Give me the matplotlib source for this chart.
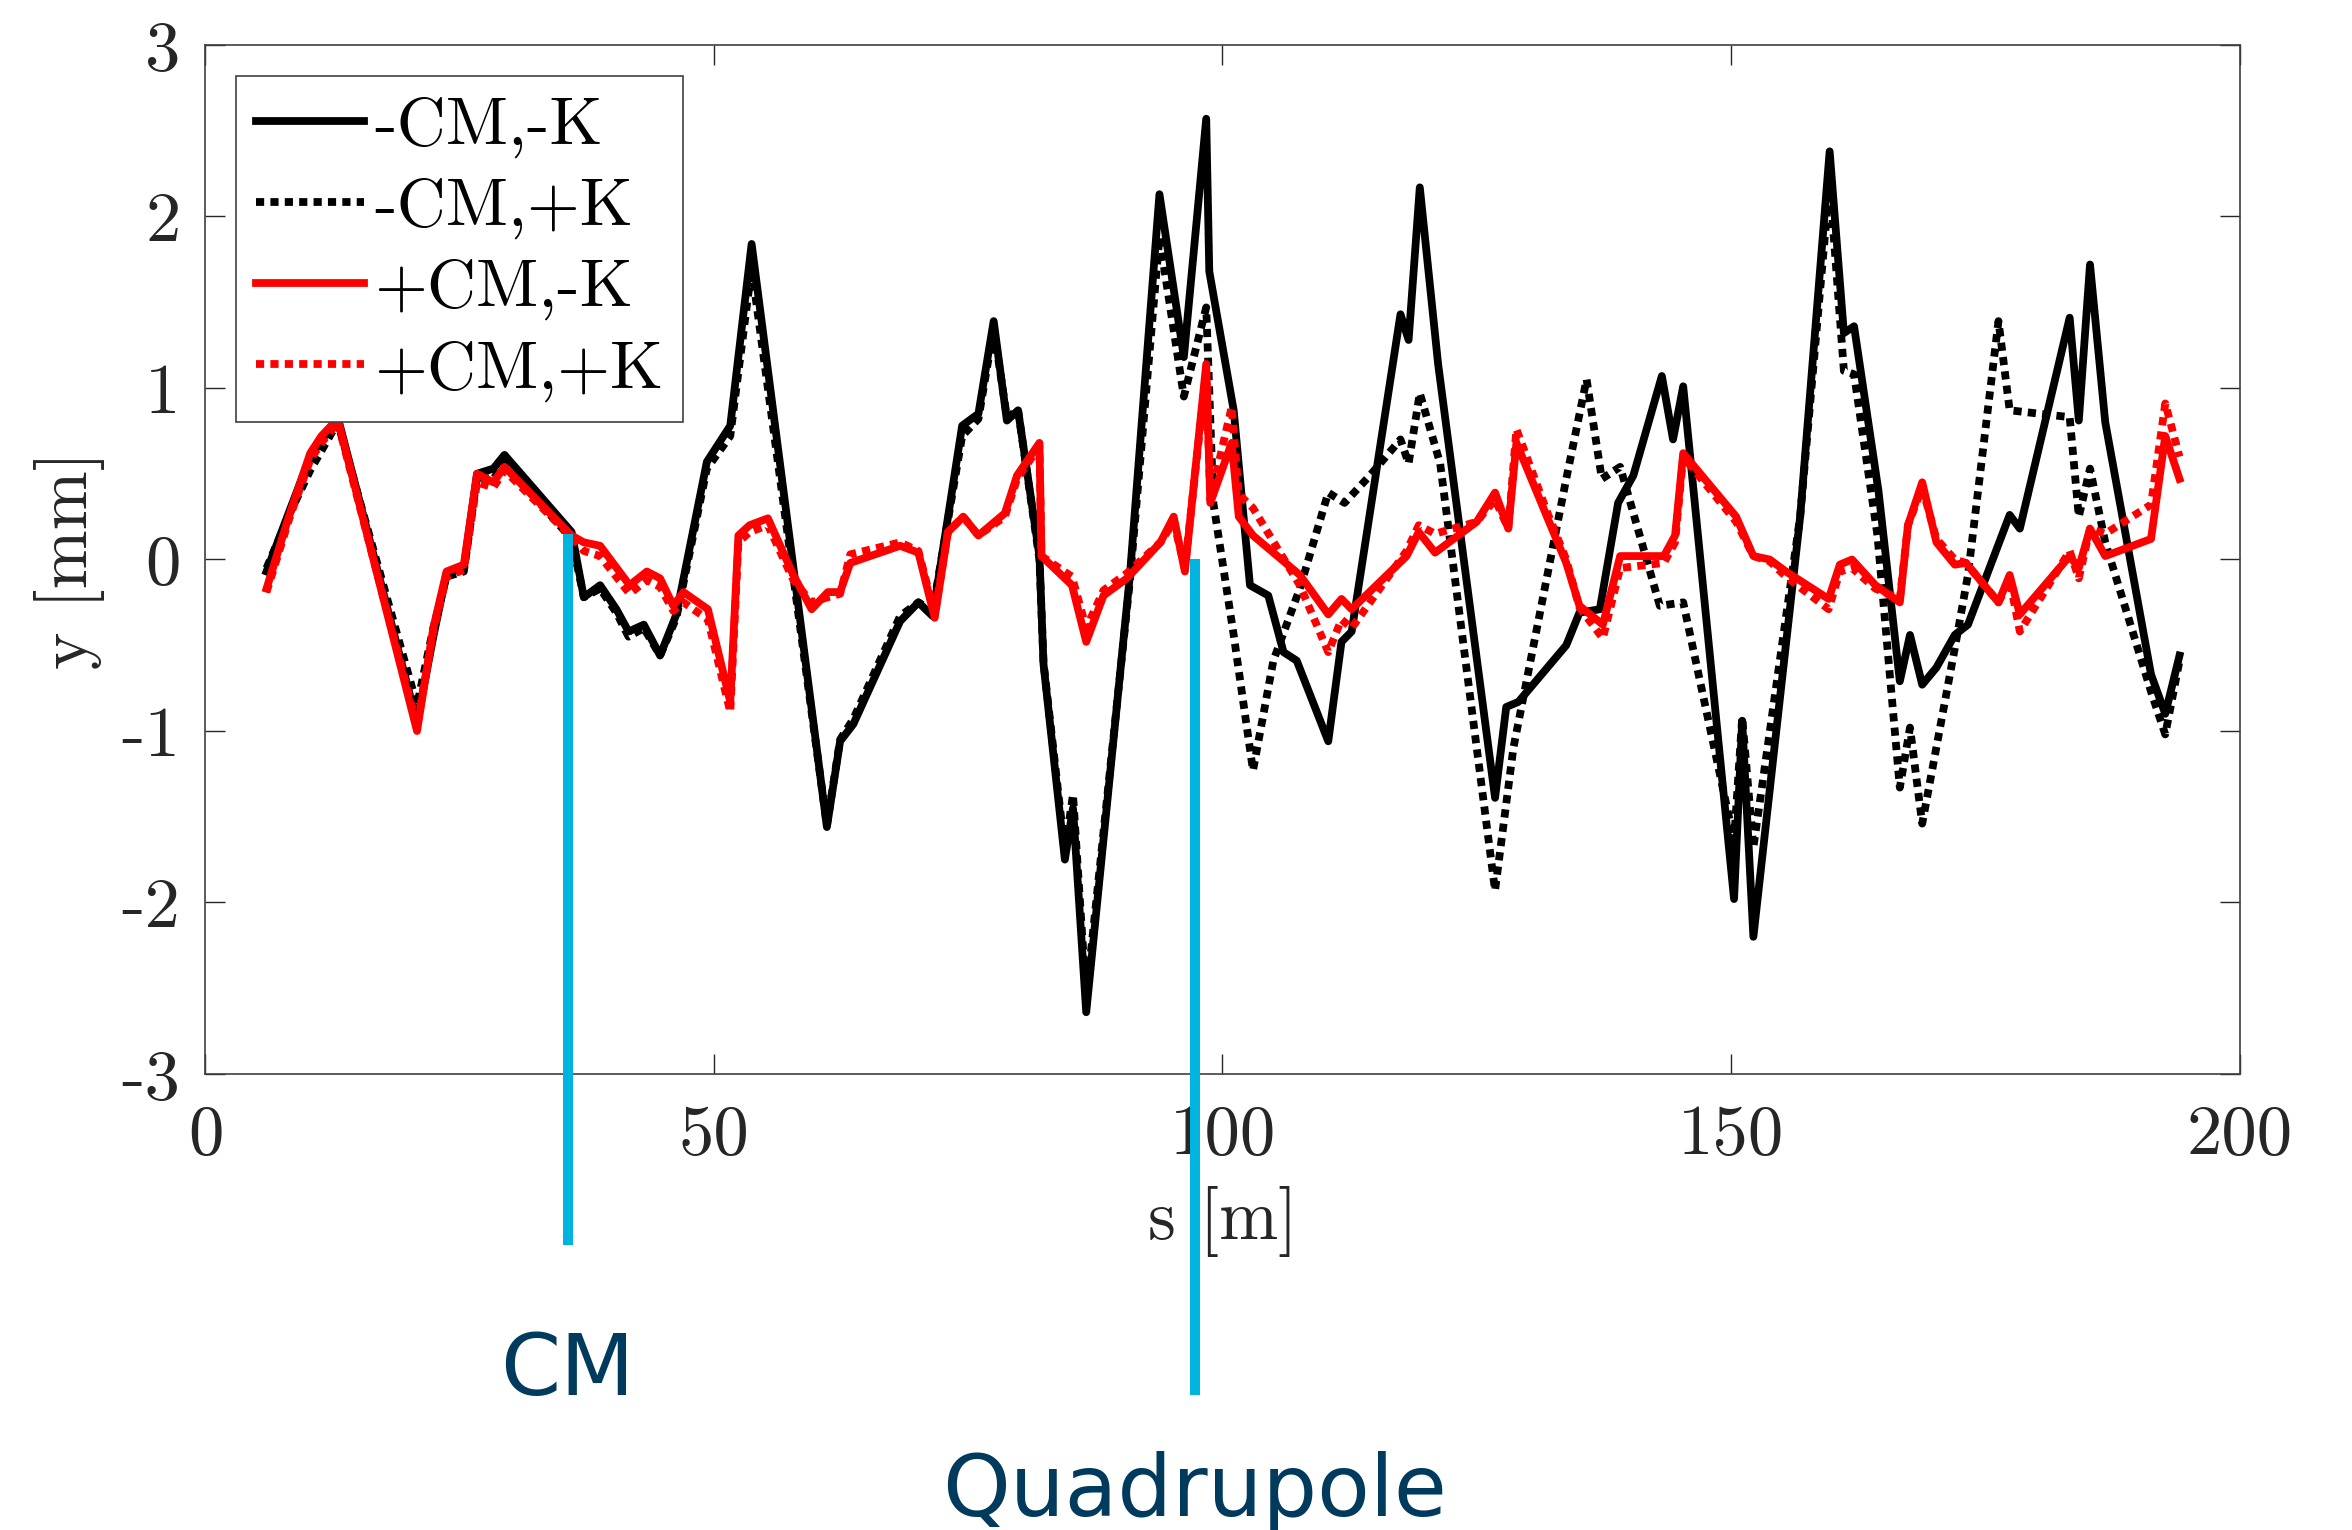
import matplotlib
matplotlib.use("Agg")
import matplotlib.pyplot as plt

plt.rcParams['font.family'] = ['cmr10', 'DejaVu Serif']
plt.rcParams['axes.unicode_minus'] = False
plt.rcParams['mathtext.fontset'] = 'cm'

# -CM,-K
s_a = [6.0, 8.3, 10.3, 13.0, 20.8, 22.4, 23.7, 25.4, 26.7, 28.3, 29.4, 36.0, 37.2, 38.8,
       40.4, 41.6, 43.1, 44.7, 46.3, 49.3, 51.6, 53.7, 61.1, 62.4, 63.7, 68.3, 70.1, 71.5,
       74.4, 76.0, 77.5, 78.8, 79.9, 82.0, 82.4, 84.5, 85.3, 86.6, 90.9, 93.8, 96.2, 98.4,
       98.7, 101.1, 102.7, 104.5, 106.0, 107.3, 110.4, 111.7, 112.7, 117.5, 118.3, 119.4,
       121.2, 126.8, 127.9, 129.1, 133.8, 135.1, 137.1, 138.9, 140.4, 143.2, 144.3, 145.3,
       150.3, 151.1, 152.2, 156.8, 159.7, 161.1, 162.1, 164.5, 166.6, 167.6, 168.8, 170.2,
       172.0, 173.3, 177.4, 178.4, 183.3, 184.2, 185.3, 186.8, 191.3, 192.7, 194.1]
y_a = [-0.07, 0.29, 0.60, 0.83, -0.95, -0.45, -0.08, -0.05, 0.50, 0.53, 0.61, 0.16, -0.22, -0.15,
       -0.29, -0.42, -0.38, -0.56, -0.32, 0.57, 0.78, 1.84, -1.56, -1.06, -0.96, -0.36, -0.25, -0.33,
       0.78, 0.85, 1.39, 0.81, 0.87, 0.02, -0.61, -1.75, -1.45, -2.64, -0.09, 2.13, 1.18, 2.57,
       1.68, 0.87, -0.15, -0.21, -0.54, -0.59, -1.06, -0.48, -0.42, 1.43, 1.28, 2.17,
       1.14, -1.39, -0.86, -0.83, -0.50, -0.31, -0.29, 0.33, 0.49, 1.07, 0.70, 1.01,
       -1.98, -0.94, -2.20, 0.25, 2.38, 1.32, 1.36, 0.40, -0.71, -0.44, -0.73, -0.63,
       -0.44, -0.38, 0.26, 0.18, 1.41, 0.81, 1.72, 0.80, -0.67, -0.90, -0.56]

# -CM,+K
s_b = [6.0, 8.3, 10.3, 13.0, 20.8, 22.4, 23.7, 25.4, 26.7, 28.3, 29.4, 36.0, 37.2, 38.8,
       40.4, 41.6, 43.1, 44.7, 46.3, 49.3, 51.6, 53.7, 61.1, 62.4, 63.7, 68.3, 70.1, 71.5,
       74.4, 76.0, 77.5, 78.8, 79.9, 82.0, 82.4, 84.5, 85.3, 86.6, 90.9, 93.8, 96.2, 98.4,
       99.1, 101.1, 103.0, 105.0, 107.6, 110.4, 112.0, 114.5, 117.5, 118.3, 119.4, 121.4,
       126.8, 128.6, 133.8, 135.8, 137.3, 139.1, 143.0, 145.3, 150.3, 151.1, 152.2, 156.8,
       159.7, 161.1, 162.1, 164.4, 166.6, 167.6, 168.8, 172.0, 173.3, 176.3, 177.4, 183.3,
       184.2, 185.3, 186.8, 191.3, 192.7, 194.1]
y_b = [-0.05, 0.27, 0.52, 0.80, -0.85, -0.40, -0.10, -0.07, 0.48, 0.47, 0.56, 0.12, -0.22, -0.17,
       -0.31, -0.45, -0.40, -0.56, -0.34, 0.53, 0.72, 1.70, -1.55, -1.05, -0.93, -0.33, -0.25, -0.30,
       0.72, 0.82, 1.35, 0.83, 0.87, 0.00, -0.60, -1.70, -1.37, -2.55, -0.12, 1.88, 0.95, 1.47,
       0.33, -0.44, -1.23, -0.59, -0.17, 0.39, 0.33, 0.49, 0.70, 0.56, 0.97, 0.56,
       -1.93, -1.10, 0.47, 1.05, 0.47, 0.54, -0.27, -0.25, -1.64, -0.92, -1.68, 0.25,
       2.20, 1.10, 1.08, 0.14, -1.33, -0.98, -1.54, -0.52, -0.09, 1.39, 0.87, 0.83,
       0.25, 0.53, 0.10, -0.77, -1.02, -0.59]

# +CM,-K
s_c = [6.0, 8.3, 10.3, 11.4, 13.0, 20.8, 22.4, 23.7, 25.4, 26.7, 28.3, 29.4, 36.0, 37.2,
       38.8, 41.7, 43.4, 44.7, 46.0, 47.0, 49.4, 51.6, 52.4, 53.5, 55.3, 57.8, 59.6, 61.2,
       62.4, 63.4, 68.3, 70.1, 71.7, 73.0, 74.5, 76.0, 78.6, 79.8, 82.0, 82.2, 85.2, 86.6,
       88.3, 90.6, 93.9, 95.2, 96.3, 98.4, 98.8, 100.9, 101.6, 103.0, 107.6, 110.4, 111.7,
       112.7, 118.1, 119.3, 120.9, 125.0, 126.8, 128.1, 128.9, 131.9, 133.8, 135.1, 137.4,
       139.1, 143.4, 144.5, 145.3, 150.5, 152.2, 153.8, 155.4, 159.6, 160.7, 161.9, 164.2,
       166.6, 167.4, 168.8, 170.2, 172.0, 173.1, 176.3, 177.4, 178.4, 183.3, 184.2, 185.3,
       186.8, 191.3, 192.7, 194.1]
y_c = [-0.17, 0.27, 0.62, 0.72, 0.82, -1.00, -0.40, -0.07, -0.03, 0.50, 0.45, 0.54, 0.14, 0.10,
       0.08, -0.15, -0.07, -0.11, -0.27, -0.19, -0.29, -0.83, 0.14, 0.20, 0.24, -0.09, -0.29, -0.19,
       -0.19, -0.02, 0.08, 0.04, -0.34, 0.16, 0.25, 0.14, 0.27, 0.49, 0.68, 0.02, -0.15, -0.48,
       -0.21, -0.11, 0.10, 0.25, -0.07, 1.14, 0.33, 0.68, 0.25, 0.14, -0.09, -0.32, -0.23,
       -0.29, 0.02, 0.16, 0.04, 0.22, 0.39, 0.18, 0.68, 0.25, -0.02, -0.27, -0.38,
       0.02, 0.02, 0.14, 0.62, 0.25, 0.02, 0.00, -0.07, -0.23, -0.03, 0.00, -0.15,
       -0.25, 0.20, 0.45, 0.10, -0.03, -0.02, -0.25, -0.09, -0.32, 0.02, -0.05, 0.18,
       0.02, 0.12, 0.72, 0.47]

# +CM,+K
s_d = s_c
y_d = [-0.19, 0.25, 0.58, 0.68, 0.80, -0.97, -0.42, -0.10, -0.06, 0.45, 0.42, 0.52, 0.13, 0.05,
       0.02, -0.20, -0.12, -0.16, -0.30, -0.25, -0.35, -0.89, 0.10, 0.16, 0.20, -0.12, -0.25, -0.22,
       -0.20, 0.03, 0.10, 0.05, -0.32, 0.16, 0.25, 0.14, 0.25, 0.47, 0.66, 0.02, -0.10, -0.40,
       -0.18, -0.08, 0.10, 0.22, -0.05, 1.10, 0.35, 0.89, 0.38, 0.30, -0.15, -0.54, -0.35,
       -0.40, 0.05, 0.20, 0.15, 0.22, 0.35, 0.18, 0.76, 0.28, 0.00, -0.28, -0.46,
       -0.05, -0.02, 0.10, 0.60, 0.22, 0.02, -0.01, -0.10, -0.29, -0.07, -0.05, -0.17,
       -0.23, 0.20, 0.42, 0.12, 0.00, -0.02, -0.25, -0.12, -0.42, 0.05, -0.11, 0.18,
       0.15, 0.32, 0.91, 0.60]

labels = ['-CM,-K', '-CM,+K', '+CM,-K', '+CM,+K']
xticks = [0, 50, 100, 150, 200]
yticks = [-3, -2, -1, 0, 1, 2, 3]

# element markers drawn below the axes
mark_s = [35.6, 97.3]
mark_top = [0.15, 0.0]
mark_bottom = [-4.0, -4.87]
mark_text_y = [-4.87, -5.58]
mark_names = ['CM', 'Quadrupole']

fig = plt.figure(figsize=(11.76, 7.65), dpi=200)
ax = fig.add_axes([0.08737, 0.29804, 0.8648, 0.67255])

dot = (0, (1.05, 0.8))
lw = 2.8
ax.plot(s_a, y_a, color='k', lw=lw, label=labels[0])
ax.plot(s_b, y_b, color='k', lw=lw, ls=dot, label=labels[1])
ax.plot(s_c, y_c, color='r', lw=lw, label=labels[2])
ax.plot(s_d, y_d, color='r', lw=lw, ls=dot, label=labels[3])

ax.set_xlim(0, 200)
ax.set_ylim(-3, 3)
ax.set_xticks(xticks)
ax.set_xticklabels([str(t) for t in xticks])
ax.set_yticks(yticks)
ax.set_yticklabels([str(t) for t in yticks])
ax.tick_params(direction='in', length=7.2, width=0.5, top=True, right=True,
               labelsize=25.5, colors='#262626', pad=9)
ax.tick_params(axis='x', pad=11)
for sp in ax.spines.values():
    sp.set_color('#404040')
    sp.set_linewidth(0.6)

ax.set_xlabel('s [m]', fontsize=25.5, color='#262626', labelpad=6.5)
ax.set_ylabel('y [mm]', fontsize=25.5, color='#262626', labelpad=6)

leg = ax.legend(loc='upper left', bbox_to_anchor=(0.015, 0.970), borderaxespad=0,
                fontsize=24.5, handlelength=1.58, handletextpad=0.15, labelspacing=0.29,
                borderpad=0.3, fancybox=False, framealpha=1)
leg.get_frame().set_edgecolor('#404040')
leg.get_frame().set_linewidth(0.6)

for s, top, bot, ty, name in zip(mark_s, mark_top, mark_bottom, mark_text_y, mark_names):
    ax.plot([s, s], [top, bot], color='#00b4e0', lw=3.6, clip_on=False, zorder=10,
            solid_capstyle='butt')
    ax.text(s, ty, name, ha='center', va='baseline', fontsize=31, color='#003a5c',
            family='DejaVu Sans', clip_on=False)

fig.savefig('out.png', dpi=200)
